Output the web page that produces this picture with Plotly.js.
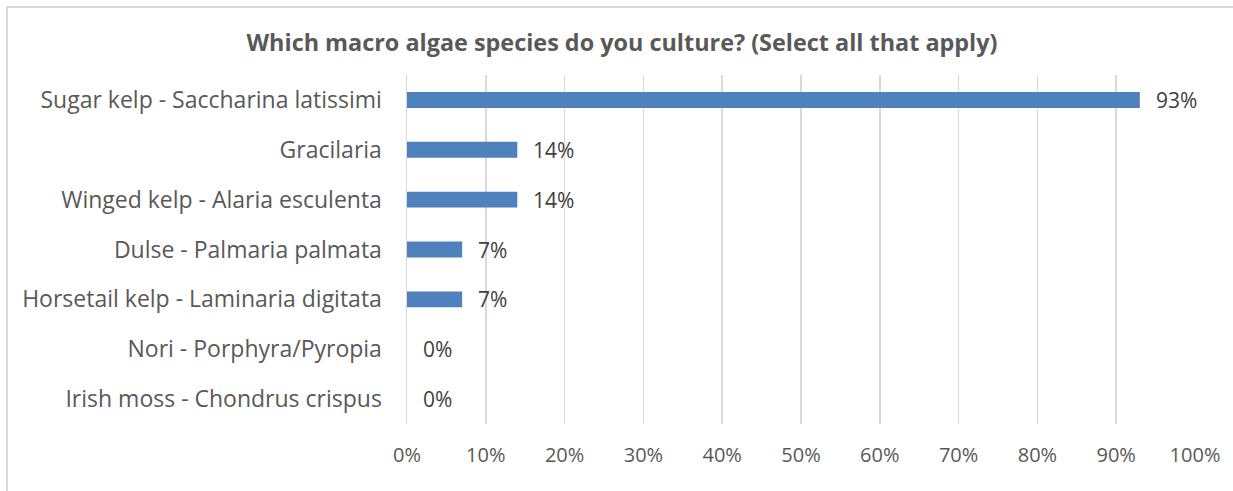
<!DOCTYPE html>
<html>
<head>
<meta charset="utf-8">
<script src="https://cdn.plot.ly/plotly-3.0.1.min.js"></script>
<style>
  html, body { margin: 0; padding: 0; background: #fff; }
  #wrap { position: relative; width: 1233px; height: 491px; overflow: hidden; }
  #chart { position: absolute; left: 0; top: 0; width: 1233px; height: 491px; }
  #frame { position: absolute; left: 6px; top: 6px; width: 1240px; height: 500px;
           border-left: 2px solid #D9D9D9; border-top: 2px solid #D9D9D9;
           pointer-events: none; }
</style>
</head>
<body>
<div id="wrap">
  <div id="chart"></div>
  <div id="frame"></div>
</div>
<script>
// Survey answers, listed top to bottom
const species = [
  "Sugar kelp - Saccharina latissimi",
  "Gracilaria",
  "Winged kelp - Alaria esculenta",
  "Dulse - Palmaria palmata",
  "Horsetail kelp - Laminaria digitata",
  "Nori - Porphyra/Pyropia",
  "Irish moss - Chondrus crispus"
];
const sharePct = [93, 14, 14, 7, 7, 0, 0];
const xTickVals = [0, 10, 20, 30, 40, 50, 60, 70, 80, 90, 100];
const xTickText = ["0%", "10%", "20%", "30%", "40%", "50%", "60%", "70%", "80%", "90%", "100%"];

const FONT = "'Open Sans', 'Noto Sans', sans-serif";

const bars = {
  type: "bar",
  orientation: "h",
  y: species,
  x: sharePct,
  marker: { color: "#4F81BD" },
  hoverinfo: "skip"
};

// value labels placed just past the end of each bar
const labels = species.map((s, i) => ({
  x: sharePct[i],
  y: s,
  xref: "x",
  yref: "y",
  text: sharePct[i] + "%",
  showarrow: false,
  xanchor: "left",
  xshift: 14,
  font: { family: FONT, size: 21, color: "#404040" }
}));

const layout = {
  width: 1233,
  height: 491,
  paper_bgcolor: "#ffffff",
  plot_bgcolor: "#ffffff",
  margin: { l: 407, r: 38, t: 75, b: 67 },
  bargap: 0.68,
  showlegend: false,
  title: {
    text: "<b>Which macro algae species do you culture? (Select all that apply)</b>",
    font: { family: FONT, size: 23.4, color: "#595959" },
    x: 622 / 1233,
    xref: "container",
    xanchor: "center",
    y: 1 - 43 / 491,
    yref: "container",
    yanchor: "middle"
  },
  xaxis: {
    range: [0, 100],
    tickvals: xTickVals,
    ticktext: xTickText,
    showgrid: true,
    gridcolor: "#D9D9D9",
    gridwidth: 1.5,
    zeroline: false,
    showline: false,
    ticks: "",
    ticklabelstandoff: 17,
    tickfont: { family: FONT, size: 20, color: "#595959" },
    fixedrange: true
  },
  yaxis: {
    categoryorder: "array",
    categoryarray: species,
    autorange: "reversed",
    showgrid: false,
    zeroline: false,
    showline: true,
    linecolor: "#D9D9D9",
    linewidth: 1.5,
    ticks: "",
    ticklabelstandoff: 19,
    tickfont: { family: FONT, size: 23, color: "#595959" },
    fixedrange: true
  },
  annotations: labels
};

Plotly.newPlot("chart", [bars], layout, { displayModeBar: false, staticPlot: true });
</script>
</body>
</html>
